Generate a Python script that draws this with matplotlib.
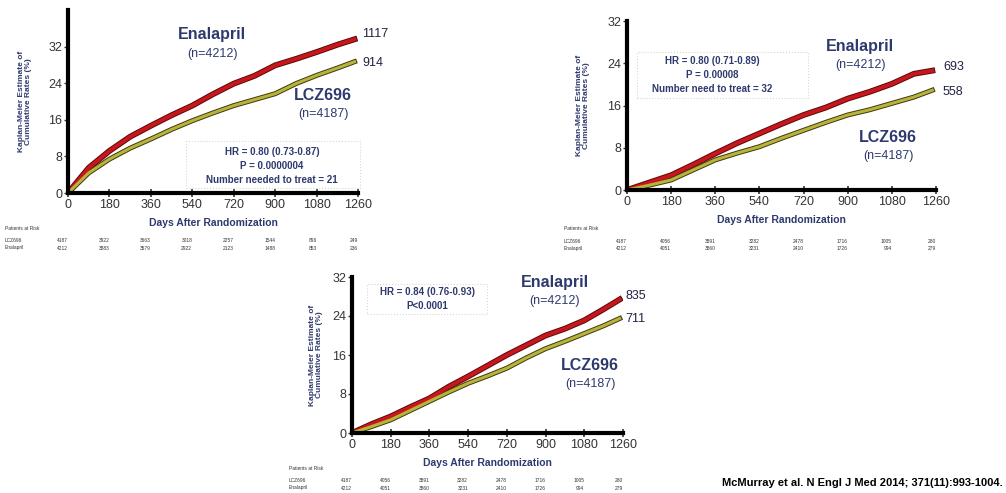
import matplotlib
matplotlib.use("Agg")
import matplotlib.pyplot as plt
import matplotlib.transforms as mtransforms

plt.rcParams['font.family'] = ['Liberation Sans', 'DejaVu Sans']
NARROW = ["Liberation Sans Narrow", "Liberation Sans", "DejaVu Sans"]

NAVY = "#2e3a6e"
RED = "#c8161d"
GREEN = "#b8b33a"

days = [0, 90, 180, 270, 360, 450, 540, 630, 720, 810, 900, 990, 1080, 1170, 1245]
tick_days = [0, 180, 360, 540, 720, 900, 1080, 1260]

# panel A: CV death or HF hospitalization
a_enal = [0, 5.5, 9.2, 12.3, 14.7, 17.0, 19.1, 21.6, 23.9, 25.6, 27.9, 29.3, 30.8, 32.4, 33.6]
a_lcz = [0, 4.4, 7.4, 9.8, 11.8, 13.9, 15.8, 17.5, 19.1, 20.4, 21.7, 23.9, 25.7, 27.3, 28.7]
# panel B: CV death
b_enal = [0, 1.4, 2.8, 4.8, 6.9, 8.9, 10.7, 12.5, 14.2, 15.6, 17.3, 18.6, 20.1, 22.0, 22.6]
b_lcz = [0, 0.9, 1.9, 3.8, 5.7, 7.0, 8.2, 9.8, 11.3, 12.8, 14.2, 15.2, 16.4, 17.6, 18.9]
# panel C: all-cause death
c_enal = [0, 1.8, 3.4, 5.3, 7.1, 9.5, 11.6, 13.8, 16.0, 18.0, 20.0, 21.4, 23.1, 25.4, 27.4]
c_lcz = [0, 1.3, 2.7, 4.6, 6.5, 8.4, 10.2, 11.7, 13.3, 15.4, 17.3, 18.8, 20.4, 22.0, 23.5]

risk_a_lcz = [4187, 3922, 3663, 3018, 2257, 1544, 896, 249]
risk_a_enal = [4212, 3883, 3579, 2922, 2123, 1488, 853, 236]
risk_bc_lcz = [4187, 4056, 3891, 3282, 2478, 1716, 1005, 280]
risk_bc_enal = [4212, 4051, 3860, 3231, 2410, 1726, 994, 279]

W, H = 1006, 493
fig = plt.figure(figsize=(W / 100, H / 100), dpi=100)


def t(x, y, s, **kw):
    return fig.text(x / W, 1 - y / H, s, **kw)


def px_axes(left, top, right, bottom):
    return fig.add_axes([left / W, 1 - bottom / H, (right - left) / W, (bottom - top) / H])


def panel(box, ymax, enal, lcz, end_lab, stats, stat_xy, box_ext, enal_xy, lcz_xy, end_x,
          risk_lcz, risk_enal, risk_y, ylab_x):
    ax = px_axes(*box)
    ax.plot(days, enal, color="#5a0a0a", lw=4.2, zorder=2)
    ax.plot(days, enal, color=RED, lw=2.8, zorder=3)
    ax.plot(days, lcz, color="#3d3a10", lw=3.6, zorder=2)
    ax.plot(days, lcz, color=GREEN, lw=2.2, zorder=3)
    ax.set_xlim(0, 1260)
    ax.set_ylim(0, ymax)
    ax.set_xticks(tick_days)
    ax.set_yticks([0, 8, 16, 24, 32])
    for s in ["top", "right"]:
        ax.spines[s].set_visible(False)
    for s in ["left", "bottom"]:
        ax.spines[s].set_linewidth(3)
        ax.spines[s].set_zorder(4)
    ax.tick_params(axis="x", direction="inout", length=6, width=1.2, labelsize=9, pad=1, colors="#333333")
    ax.tick_params(axis="y", direction="out", length=3, width=1, labelsize=9, pad=1, colors="#333333")
    for lab in ax.get_xticklabels() + ax.get_yticklabels():
        lab.set_family(NARROW)
    ax.set_xlabel("Days After Randomization", fontsize=7.5, fontweight="bold", color=NAVY, labelpad=5)
    ax.patch.set_alpha(0)

    # y label placed by pixel position
    t(ylab_x, (box[1] + box[3]) / 2, "Kaplan-Meier Estimate of\nCumulative Rates (%)", fontsize=6,
      fontweight="bold", color=NAVY, rotation=90, ha="center", va="center", linespacing=0.95)

    t(enal_xy[0], enal_xy[1], "Enalapril", fontsize=11.5, fontweight="bold", color=NAVY, ha="center", va="center")
    t(enal_xy[0], enal_xy[1] + 19, "(n=4212)", fontsize=9, color=NAVY, ha="center", va="center")
    t(lcz_xy[0], lcz_xy[1], "LCZ696", fontsize=11.5, fontweight="bold", color=NAVY, ha="center", va="center")
    t(lcz_xy[0], lcz_xy[1] + 19, "(n=4187)", fontsize=9, color=NAVY, ha="center", va="center")
    t(end_x, end_lab[0][1], end_lab[0][0], fontsize=9, color="#222244", ha="left", va="center")
    t(end_x, end_lab[1][1], end_lab[1][0], fontsize=9, color="#222244", ha="left", va="center")

    x0, y0, x1, y1 = box_ext
    rect = plt.Rectangle((x0 / W, 1 - y1 / H), (x1 - x0) / W, (y1 - y0) / H, transform=fig.transFigure,
                         facecolor="white", edgecolor="#d8d8c8", lw=0.8, ls=":", zorder=5)
    fig.patches.append(rect)
    for i, line in enumerate(stats):
        t(stat_xy[0], stat_xy[1] + i * 14, line, fontsize=7, fontweight="bold", color=NAVY,
          ha="center", va="center", zorder=6)

    # patients at risk table
    trans = mtransforms.blended_transform_factory(ax.transData, fig.transFigure)
    t(box[0] - 63, risk_y, "Patients at Risk", fontsize=3.5, color="#333333", va="center")
    t(box[0] - 63, risk_y + 12, "LCZ696", fontsize=3.5, color="#333333", va="center")
    t(box[0] - 63, risk_y + 20, "Enalapril", fontsize=3.5, color="#333333", va="center")
    for d, a, b in zip(tick_days, risk_lcz, risk_enal):
        ax.text(d, 1 - (risk_y + 12) / H, str(a), transform=trans, fontsize=3.5, color="#333333",
                ha="right", va="center", clip_on=False)
        ax.text(d, 1 - (risk_y + 20) / H, str(b), transform=trans, fontsize=3.5, color="#333333",
                ha="right", va="center", clip_on=False)
    return ax


panel((68, 10, 358, 193), 40, a_enal, a_lcz, [("1117", 34), ("914", 63)],
      ["HR = 0.80 (0.73-0.87)", "P = 0.0000004", "Number needed to treat = 21"],
      (272, 152), (186, 141, 360, 188), (212, 35), (323, 95), 362,
      risk_a_lcz, risk_a_enal, 228, 25)

panel((627, 21, 936, 190), 32, b_enal, b_lcz, [("693", 67), ("558", 92)],
      ["HR = 0.80 (0.71-0.89)", "P = 0.00008", "Number need to treat = 32"],
      (712, 61), (637, 52, 808, 98), (860, 46), (888, 137), 943,
      risk_bc_lcz, risk_bc_enal, 229, 583)

panel((352, 277, 623, 433), 32, c_enal, c_lcz, [("835", 296), ("711", 319)],
      ["HR = 0.84 (0.76-0.93)", "P<0.0001"],
      (427, 292), (367, 284, 487, 314), (555, 282), (590, 365), 625,
      risk_bc_lcz, risk_bc_enal, 468, 316)

fig.text(1003 / W, 1 - 483 / H, "McMurray et al. N Engl J Med 2014; 371(11):993-1004.",
         fontsize=8, fontweight="bold", ha="right", va="center", family=NARROW)

fig.savefig("out.png", dpi=100)
